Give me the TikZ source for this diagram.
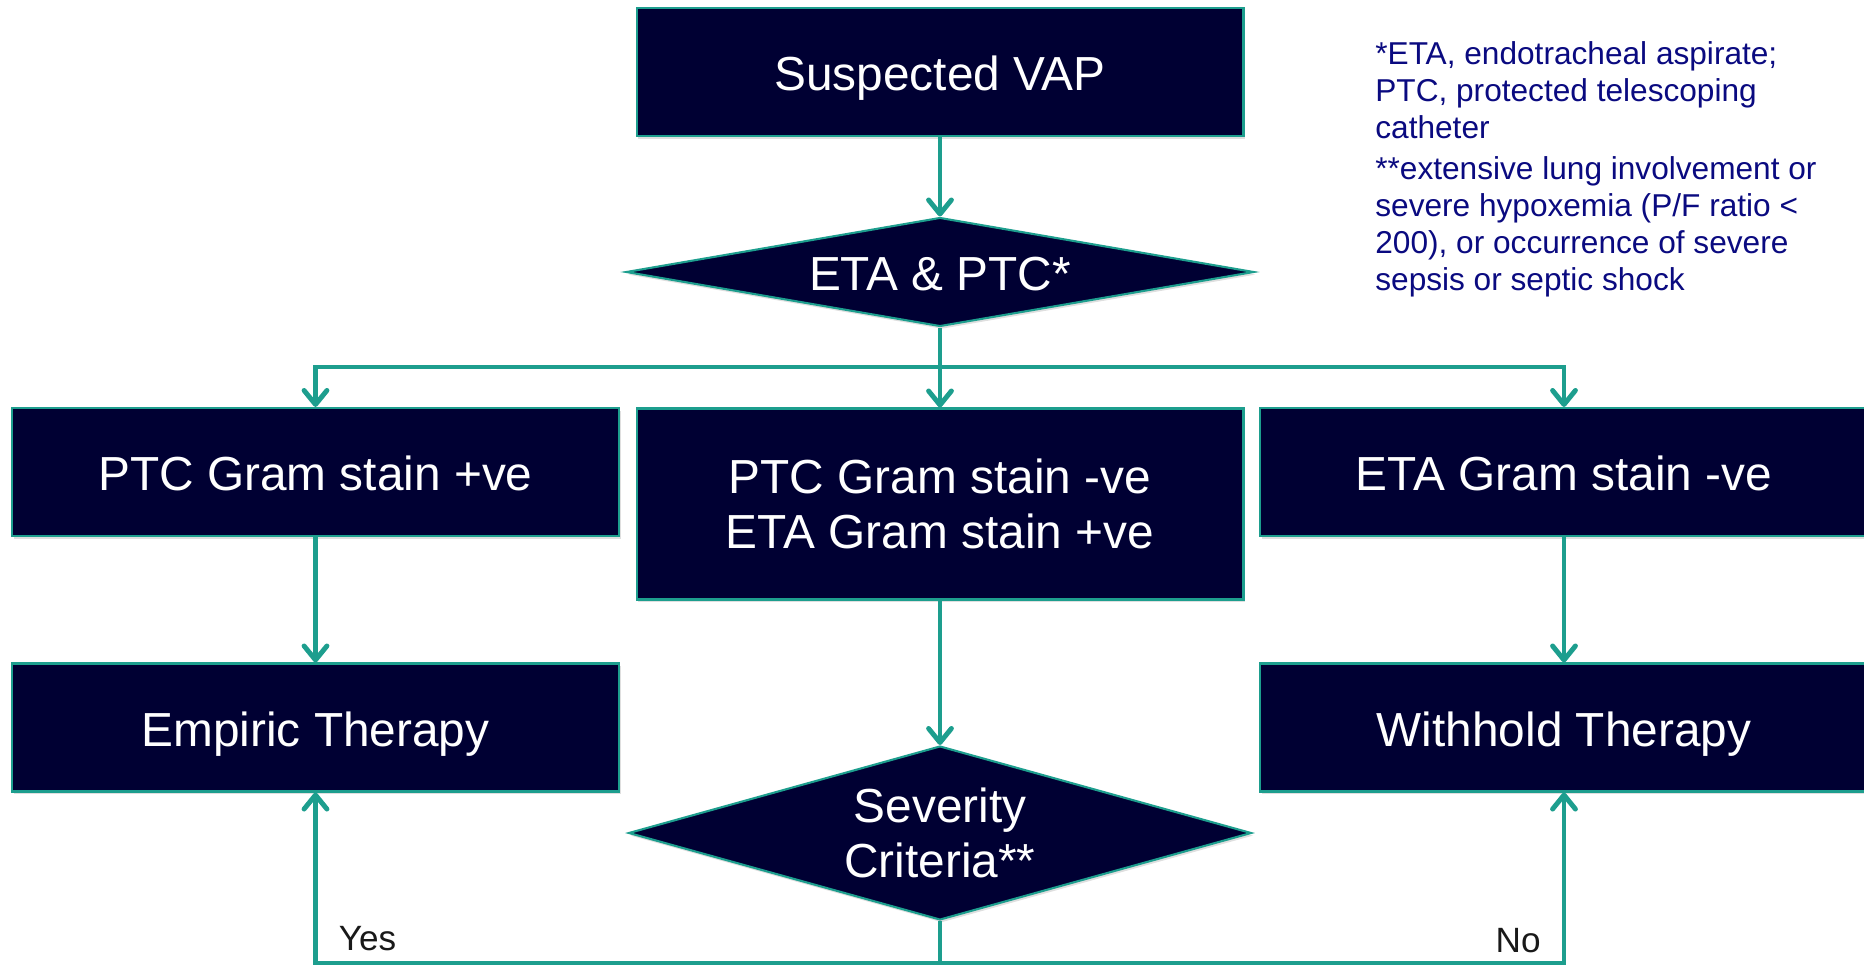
\documentclass[tikz,border=0pt]{standalone}
\usepackage{fontspec}
\setmainfont{Liberation Sans}
\usepackage{xcolor}
\usetikzlibrary{shapes.geometric,arrows.meta,shadows}
\definecolor{vapnavy}{RGB}{0,0,51}
\definecolor{vapteal}{RGB}{29,158,142}
\definecolor{notenavy}{RGB}{10,10,128}

\begin{document}
\begin{tikzpicture}[
        x=0.02cm, y=-0.02cm,
        box/.style={rectangle, draw=vapteal, line width=1.2pt, fill=vapnavy, text=white,
            minimum width=12.14cm, minimum height=2.56cm, align=center, inner sep=0pt,
            font=\fontsize{27.2}{31.6}\selectfont,
            drop shadow={shadow xshift=1pt, shadow yshift=-1.5pt, opacity=0.25}},
        oneline/.style={text height=21.5pt, text depth=0pt},
        decision/.style={diamond, draw=vapteal, line width=1.2pt, fill=vapnavy, text=white,
            align=center, inner sep=0pt, font=\fontsize{27.2}{31.6}\selectfont,
            drop shadow={shadow xshift=1pt, shadow yshift=-1.5pt, opacity=0.25}},
        arrow/.style={-{Straight Barb[length=8pt,width=13pt,round]}, line width=2.8pt, vapteal},
        link/.style={line width=2.8pt, vapteal},
        answer/.style={font=\fontsize{20}{24}\selectfont, text=black!90, inner sep=0pt},
        note/.style={font=\fontsize{18}{21}\selectfont, text=notenavy, align=left, inner sep=0pt}
    ]
        \clip (0,0) rectangle (1864,967);

        \node[box, oneline] (vap) at (940,72) {Suspected VAP};
        \node[decision, oneline, minimum width=12.56cm, minimum height=2.18cm, aspect=5.76] (etaptc) at (940,272) {ETA \& PTC*};

        \node[box, oneline] (ptcpos) at (315.5,472) {PTC Gram stain +ve};
        \node[box, minimum height=3.82cm] (mixed) at (940,504) {PTC Gram stain -ve\\ETA Gram stain +ve};
        \node[box, oneline, minimum width=12.16cm] (etaneg) at (1564,472) {ETA Gram stain -ve};

        \node[box, oneline] (empiric) at (315.5,727.5) {Empiric Therapy};
        \node[decision, minimum width=12.46cm, minimum height=3.48cm, aspect=3.58] (severity) at (940,833) {Severity\\Criteria**};
        \node[box, oneline, minimum width=12.16cm] (withhold) at (1564,727.5) {Withhold Therapy};

        \node[note, anchor=north west] (footnote) at (1375,41) {*ETA, endotracheal aspirate;\\PTC, protected telescoping\\catheter\\[2.5pt]**extensive lung involvement or\\severe hypoxemia (P/F ratio <\\200), or occurrence of severe\\sepsis or septic shock};

        \coordinate (split) at (etaptc.south |- 0,367);
        \coordinate (join) at (severity.south |- 0,963);

        \draw[arrow] (vap) -- (etaptc);
        \draw[link] (etaptc) -- (split);
        \draw[arrow] (split) -- (mixed);
        \draw[arrow] (split) -| (ptcpos);
        \draw[arrow] (split) -| (etaneg);

        \draw[arrow] (ptcpos) -- (empiric);
        \draw[arrow] (mixed) -- (severity);
        \draw[arrow] (etaneg) -- (withhold);

        \draw[link] (severity) -- (join);
        \draw[arrow] (join) -| node[answer, pos=0.5, anchor=base west, xshift=0.42cm, yshift=0.26cm] (yes) {Yes} (empiric);
        \draw[arrow] (join) -| node[answer, pos=0.5, anchor=base east, xshift=-0.42cm, yshift=0.22cm] (no) {No} (withhold);
    \end{tikzpicture}
\end{document}
